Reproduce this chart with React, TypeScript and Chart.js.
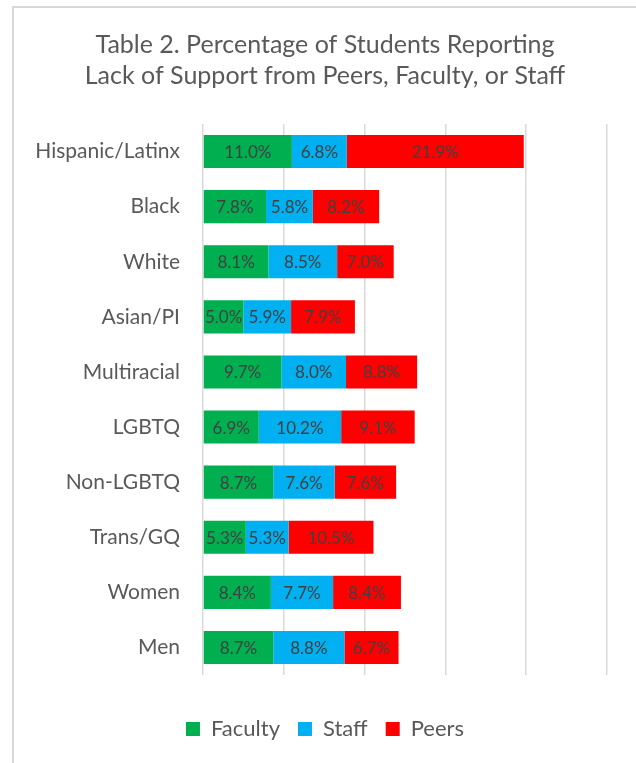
import React, { useEffect, useRef } from "react";
import { Chart, registerables } from "chart.js";

Chart.register(...registerables);

const categories = [
  "Hispanic/Latinx",
  "Black",
  "White",
  "Asian/PI",
  "Multiracial",
  "LGBTQ",
  "Non-LGBTQ",
  "Trans/GQ",
  "Women",
  "Men",
];
const faculty = [11.0, 7.8, 8.1, 5.0, 9.7, 6.9, 8.7, 5.3, 8.4, 8.7];
const staff = [6.8, 5.8, 8.5, 5.9, 8.0, 10.2, 7.6, 5.3, 7.7, 8.8];
const peers = [21.9, 8.2, 7.0, 7.9, 8.8, 9.1, 7.6, 10.5, 8.4, 6.7];
const titleLines = [
  "Table 2. Percentage of Students Reporting",
  "Lack of Support from Peers, Faculty, or Staff",
];

const FONT = "Lato, 'Open Sans', sans-serif";

const frame = {
  id: "frame",
  beforeDraw(chart: any) {
    const ctx = chart.ctx;
    ctx.save();
    ctx.fillStyle = "#ffffff";
    ctx.fillRect(0, 0, chart.width, chart.height);
    ctx.strokeStyle = "#d9d9d9";
    ctx.lineWidth = 2;
    ctx.beginPath();
    ctx.moveTo(13, chart.height);
    ctx.lineTo(13, 7);
    ctx.lineTo(chart.width, 7);
    ctx.stroke();
    ctx.restore();
  },
};

// Center title and legend within the framed area rather than the plot box.
const recenter = {
  id: "recenter",
  afterLayout(chart: any) {
    if (chart.titleBlock) chart.titleBlock.left = 43;
    if (chart.legend) chart.legend.left = 43;
  },
};

const barLabels = {
  id: "barLabels",
  afterDatasetsDraw(chart: any) {
    const ctx = chart.ctx;
    ctx.save();
    ctx.font = `17px ${FONT}`;
    ctx.fillStyle = "#404040";
    ctx.textAlign = "center";
    ctx.textBaseline = "middle";
    chart.data.datasets.forEach((ds: any, i: number) => {
      const meta = chart.getDatasetMeta(i);
      meta.data.forEach((el: any, j: number) => {
        const v = ds.data[j];
        const cx = (el.x + el.base) / 2;
        ctx.fillText(v.toFixed(1) + "%", cx, el.y + 1);
      });
    });
    ctx.restore();
  },
};

export default function App() {
  const ref = useRef<HTMLCanvasElement>(null);
  useEffect(() => {
    if (!ref.current) return;
    const chart = new Chart(ref.current, {
      type: "bar",
      data: {
        labels: categories,
        datasets: [
          { label: "Faculty", data: faculty, backgroundColor: "#00B050" },
          { label: "Staff", data: staff, backgroundColor: "#00B0F0" },
          { label: "Peers", data: peers, backgroundColor: "#FF0000" },
        ],
      },
      options: {
        indexAxis: "y",
        animation: false,
        responsive: false,
        devicePixelRatio: 1,
        datasets: { bar: { categoryPercentage: 1, barPercentage: 0.6 } },
        layout: { padding: { left: 0, right: 29, top: 0, bottom: 13 } },
        scales: {
          x: {
            stacked: true,
            min: 0,
            max: 50,
            ticks: { display: false, stepSize: 10 },
            grid: { color: "#d9d9d9", lineWidth: 1.5, drawTicks: false },
            border: { display: false },
            afterFit: (s: any) => {
              s.height = 25;
            },
          },
          y: {
            stacked: true,
            ticks: {
              color: "#595959",
              font: { family: FONT, size: 21 },
              padding: 23,
            },
            grid: { display: false, drawTicks: false },
            border: { display: false },
            afterFit: (s: any) => {
              s.width = 203;
            },
          },
        },
        plugins: {
          title: {
            display: true,
            text: titleLines,
            color: "#595959",
            font: { family: FONT, size: 25, weight: "normal", lineHeight: 1.24 },
            padding: { top: 29.5, bottom: 32.5 },
          },
          legend: {
            position: "bottom",
            labels: {
              color: "#595959",
              font: { family: FONT, size: 22 },
              boxWidth: 14,
              boxHeight: 14,
              padding: 18,
            },
          },
          tooltip: { enabled: false },
        },
      },
      plugins: [frame, recenter, barLabels],
    });
    return () => chart.destroy();
  }, []);
  return (
    <div style={{ position: "absolute", left: 0, top: 0, width: 636, height: 763 }}>
      <canvas ref={ref} width={636} height={763} />
    </div>
  );
}
